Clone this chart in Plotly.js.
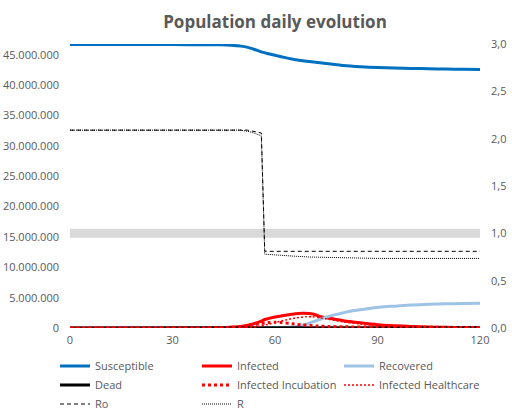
<!DOCTYPE html>
<html>
<head>
<meta charset="utf-8">
<script src="https://cdn.plot.ly/plotly-3.0.1.min.js"></script>
<style>html,body{margin:0;padding:0;background:#fff;}#chart{width:512px;height:410px;}</style>
</head>
<body>
<div id="chart"></div>
<script>
// ---- data (population values in millions, Ro/R as ratios) ----
const xTicks = [0, 30, 60, 90, 120];
const leftTicks = [0, 5, 10, 15, 20, 25, 30, 35, 40, 45];   // millions
const rightTicks = [0, 0.5, 1, 1.5, 2, 2.5, 3];

const daysSusceptible = [0,10,20,30,40,44,47,50,52,54,56,58,60,63,66,70,75,80,85,90,95,100,105,110,115,120];
const susceptible     = [46.70,46.70,46.70,46.70,46.69,46.66,46.60,46.45,46.25,45.90,45.50,45.20,44.95,44.55,44.20,43.90,43.60,43.25,43.05,42.92,42.83,42.77,42.72,42.68,42.63,42.60];

const daysInfected = [0,20,40,45,48,50,52,54,56,57,58,60,63,66,68,70,72,73,75,78,80,85,90,95,100,105,110,115,120];
const infected     = [0,0.002,0.02,0.06,0.15,0.25,0.45,0.75,1.15,1.40,1.55,1.80,2.10,2.35,2.42,2.38,2.15,1.90,1.70,1.40,1.20,0.85,0.55,0.38,0.25,0.17,0.11,0.07,0.05];

const daysRecovered = [0,55,58,62,66,68,70,72,74,76,78,80,82,85,88,91,95,100,105,110,115,120];
const recovered     = [0,0,0.02,0.08,0.20,0.45,0.80,1.20,1.60,1.95,2.25,2.50,2.75,3.00,3.25,3.45,3.60,3.78,3.90,3.98,4.03,4.07];

const daysDead = [0,50,60,70,80,90,100,110,120];
const dead     = [0,0,0.005,0.015,0.03,0.04,0.045,0.05,0.05];

const daysIncubation = [0,20,40,45,50,53,56,58,60,62,65,68,72,76,80,90,100,110,120];
const incubation     = [0,0.002,0.01,0.05,0.20,0.45,0.75,0.90,0.95,0.90,0.70,0.50,0.35,0.25,0.20,0.15,0.12,0.10,0.08];

const daysHealthcare = [0,40,50,53,55,58,60,63,66,69,71,73,75,78,80,85,90,95,100,110,120];
const healthcare     = [0,0.005,0.02,0.10,0.25,0.60,0.90,1.30,1.65,1.85,1.85,1.70,1.50,1.20,1.00,0.65,0.42,0.28,0.18,0.08,0.03];

const daysRo = [0,52,56,57,120];
const ro     = [2.09,2.09,2.06,0.81,0.81];

const daysR = [0,50,53,56,57,60,65,70,80,90,100,120];
const r     = [2.09,2.09,2.07,2.03,0.78,0.77,0.76,0.75,0.74,0.735,0.735,0.735];

const thresholdDays = [0,120];
const threshold     = [1,1];

// ---- drawing ----
const M = v => v * 1e6;
const font = {family: 'Open Sans, sans-serif', size: 11, color: '#595959'};

const traces = [
  {x: thresholdDays, y: threshold, yaxis: 'y2', mode: 'lines', line: {color: '#d9d9d9', width: 9}, showlegend: false, hoverinfo: 'skip'},
  {name: 'Susceptible', x: daysSusceptible, y: susceptible.map(M), mode: 'lines', line: {color: '#0070c0', width: 3, shape: 'spline', smoothing: 0.6}},
  {name: 'Infected', x: daysInfected, y: infected.map(M), mode: 'lines', line: {color: '#ff0000', width: 3, shape: 'spline', smoothing: 0.6}},
  {name: 'Recovered', x: daysRecovered, y: recovered.map(M), mode: 'lines', line: {color: '#9dc3e6', width: 3, shape: 'spline', smoothing: 0.6}},
  {name: 'Dead', x: daysDead, y: dead.map(M), mode: 'lines', line: {color: '#000000', width: 3}},
  {name: 'Infected Incubation', x: daysIncubation, y: incubation.map(M), mode: 'lines', line: {color: '#ff0000', width: 3, dash: '3px,3px', shape: 'spline', smoothing: 0.6}},
  {name: 'Infected Healthcare', x: daysHealthcare, y: healthcare.map(M), mode: 'lines', line: {color: '#ff0000', width: 1.5, dash: '2px,2px', shape: 'spline', smoothing: 0.6}},
  {name: 'Ro', x: daysRo, y: ro, yaxis: 'y2', mode: 'lines', line: {color: '#000000', width: 1, dash: '4px,3px'}},
  {name: 'R', x: daysR, y: r, yaxis: 'y2', mode: 'lines', line: {color: '#000000', width: 1, dash: '1px,1px'}}
];

const layout = {
  width: 512, height: 410,
  margin: {l: 70, r: 32, t: 44, b: 82, pad: 0, autoexpand: false},
  paper_bgcolor: '#ffffff', plot_bgcolor: '#ffffff',
  separators: ',.',
  font: font,
  title: {text: 'Population daily evolution', font: {family: 'Open Sans, sans-serif', size: 17, color: '#595959', weight: 'bold'},
          x: 0.5, xanchor: 'center', xref: 'paper', y: 0.946, yanchor: 'middle', yref: 'container'},
  xaxis: {range: [0, 120], tickvals: xTicks, showgrid: false, zeroline: false, showline: false, ticks: '', ticklabelstandoff: 4, tickfont: font, fixedrange: true},
  yaxis: {range: [0, M(46.8)], tickvals: leftTicks.map(M), tickformat: ',d', showgrid: false, zeroline: false, showline: false, ticks: '', ticklabelstandoff: 10, tickfont: font},
  yaxis2: {range: [0, 3], tickvals: rightTicks, tickformat: '.1f', overlaying: 'y', side: 'right', showgrid: false, zeroline: false, showline: false, ticks: '', ticklabelstandoff: 10, tickfont: font},
  legend: {orientation: 'h', xref: 'paper', yref: 'paper', x: -0.0366, xanchor: 'left', y: -0.0827, yanchor: 'top',
           entrywidth: 97, entrywidthmode: 'pixels', font: font, traceorder: 'normal', itemwidth: 30},
  showlegend: true
};

Plotly.newPlot('chart', traces, layout, {displayModeBar: false, staticPlot: true});
</script>
</body>
</html>
